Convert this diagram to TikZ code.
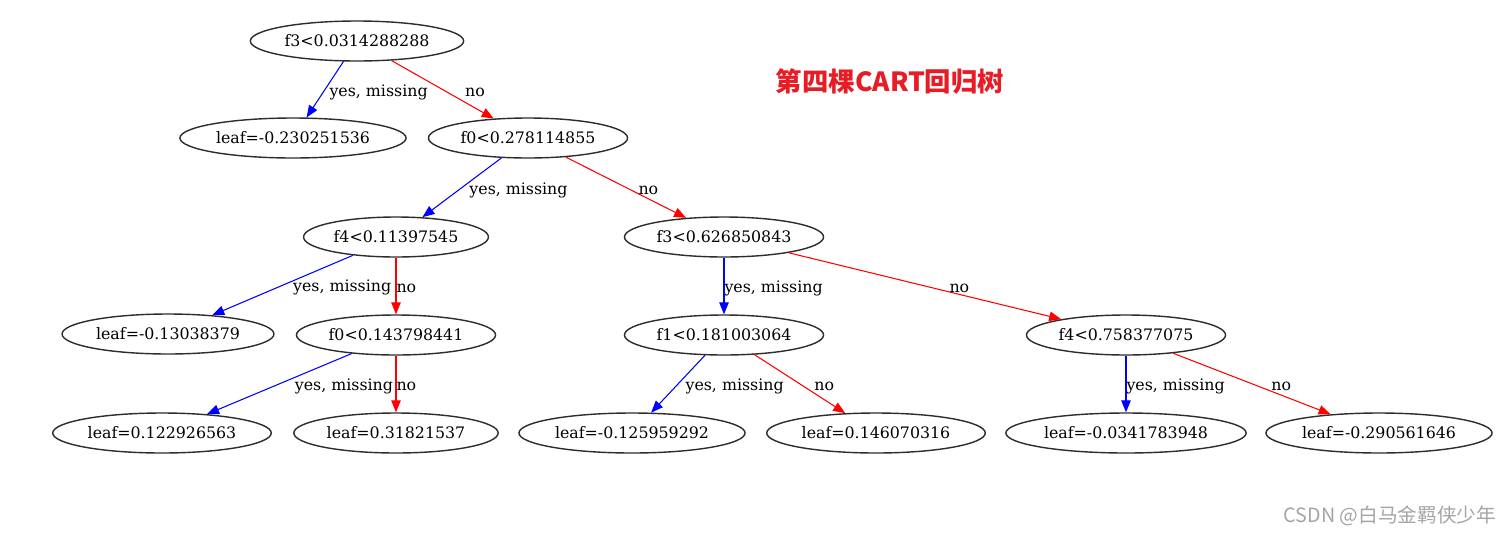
\documentclass[tikz,border=0pt]{standalone}
\usepackage{fontspec}
\setmainfont{DejaVu Serif}
\newfontfamily\cjk{Noto Sans CJK SC}
\usepackage{xcolor}
\usepackage{tikz}
\usetikzlibrary{arrows.meta,shapes.geometric}
\definecolor{yesblue}{RGB}{0,0,255}
\definecolor{nored}{RGB}{255,0,0}
\definecolor{titlered}{RGB}{232,28,36}
\definecolor{wmgray}{RGB}{165,165,165}
\definecolor{ellgray}{RGB}{45,45,45}

\begin{document}
\begin{tikzpicture}[x=0.02cm, y=-0.02cm,
      ell/.style={draw=ellgray, ellipse, line width=0.8pt, inner xsep=1.7pt, inner ysep=0pt,
                  minimum height=0.8cm, font=\fontsize{9}{10}\selectfont},
      lbl/.style={anchor=west, inner sep=0pt, yshift=-0.05cm, text=black, font=\fontsize{9}{10}\selectfont},
      yesarr/.style={-{Triangle[length=0.24cm,width=0.19cm]}, line width=0.6pt, color=yesblue},
      noarr/.style={-{Triangle[length=0.24cm,width=0.19cm]}, line width=0.6pt, color=nored}
  ]
    \useasboundingbox[fill=white] (0,0) rectangle (1511,535);
    % tree nodes
    \node[ell] (n0) at (357,41) {f3<0.0314288288};
    \node[ell] (l1) at (293,138) {leaf=-0.230251536};
    \node[ell] (n2) at (528,138) {f0<0.278114855};
    \node[ell] (n3) at (396,237) {f4<0.11397545};
    \node[ell] (n4) at (724,237) {f3<0.626850843};
    \node[ell] (l5) at (168,334) {leaf=-0.13038379};
    \node[ell] (n6) at (396,335) {f0<0.143798441};
    \node[ell] (n7) at (724,335) {f1<0.181003064};
    \node[ell] (n8) at (1126,335) {f4<0.758377075};
    \node[ell] (l9) at (162,433) {leaf=0.122926563};
    \node[ell] (l10) at (396,433) {leaf=0.31821537};
    \node[ell] (l11) at (632,433) {leaf=-0.125959292};
    \node[ell] (l12) at (876,433) {leaf=0.146070316};
    \node[ell] (l13) at (1126,433) {leaf=-0.0341783948};
    \node[ell] (l14) at (1379,433) {leaf=-0.290561646};
    % edges
    \draw[yesarr] (n0)--(l1) node[midway,lbl,xshift=0.08cm]{yes, missing};
    \draw[noarr] (n0)--(n2) node[midway,lbl,xshift=0.44cm]{no};
    \draw[yesarr] (n2)--(n3) node[midway,lbl,xshift=0.14cm]{yes, missing};
    \draw[noarr] (n2)--(n4) node[midway,lbl,xshift=0.24cm]{no};
    \draw[yesarr] (n3)--(l5) node[midway,lbl,xshift=0.2cm]{yes, missing};
    \draw[noarr] (n3)--(n6) node[midway,lbl]{no};
    \draw[yesarr] (n4)--(n7) node[midway,lbl]{yes, missing};
    \draw[noarr] (n4)--(n8) node[midway,lbl,xshift=0.48cm]{no};
    \draw[yesarr] (n6)--(l9) node[midway,lbl,xshift=0.3cm]{yes, missing};
    \draw[noarr] (n6)--(l10) node[midway,lbl]{no};
    \draw[yesarr] (n7)--(l11) node[midway,lbl,xshift=0.14cm]{yes, missing};
    \draw[noarr] (n7)--(l12) node[midway,lbl,xshift=0.28cm]{no};
    \draw[yesarr] (n8)--(l13) node[midway,lbl]{yes, missing};
    \draw[noarr] (n8)--(l14) node[midway,lbl,xshift=0.38cm]{no};
    % title and mark
    \node[text=titlered, font=\cjk\bfseries\fontsize{15}{18}\selectfont] (title) at (890,82) {第四棵CART回归树};
    \node[text=wmgray, font=\cjk\fontsize{11.2}{13}\selectfont] (mark) at (1390,516) {CSDN @白马金羁侠少年};
\end{tikzpicture}
\end{document}
